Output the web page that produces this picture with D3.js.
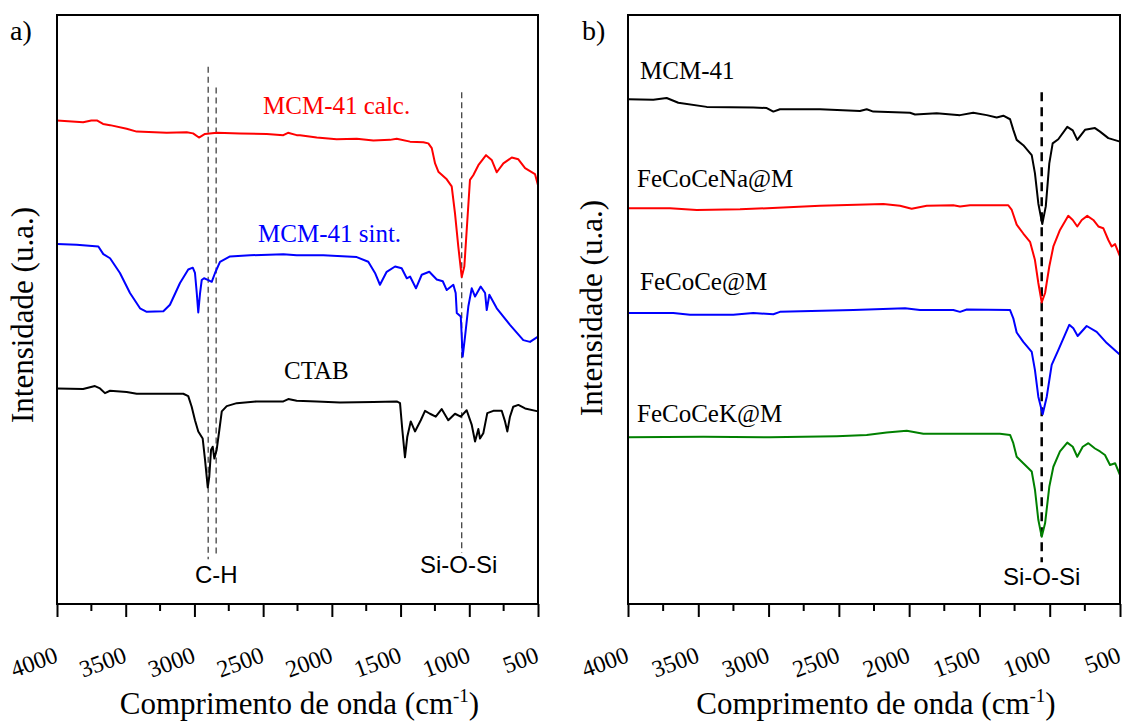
<!DOCTYPE html>
<html>
<head>
<meta charset="utf-8">
<script src="https://cdn.jsdelivr.net/npm/d3@7"></script>
<style>
  body { margin: 0; background: #fff; }
  svg { display: block; font-family: "Liberation Serif", "Times New Roman", serif; }
</style>
</head>
<body>
<svg id="chart" width="1124" height="723"></svg>
<script>
// wavenumber (cm-1) , intensity (u.a.)
const tickValues = [4000, 3500, 3000, 2500, 2000, 1500, 1000, 500];
const minorTicks = [3750, 3250, 2750, 2250, 1750, 1250, 750];

// panel a
const mcmCalc = [[4000,82.1],[3810,81.8],[3750,82.1],[3710,82.1],[3665,81.5],[3614,81.3],[3493,80.7],[3420,80.2],
  [3202,80.0],[3056,80.1],[3010,79.9],[2967,79.2],[2923,79.8],[2838,80.0],[2668,79.9],[2474,79.8],[2353,79.6],
  [2319,80.0],[2256,79.6],[2232,79.6],[2110,79.2],[1965,78.9],[1819,79.0],[1698,78.7],[1577,78.8],[1528,79.0],
  [1431,78.5],[1334,78.4],[1298,78.2],[1273,77.4],[1249,74.8],[1225,73.4],[1164,72.1],[1128,70.9],[1104,66.3],
  [1080,60.7],[1055,55.5],[1036,57.3],[1014,65.2],[995,72.0],[971,72.8],[934,74.5],[878,76.2],[837,75.4],
  [800,73.3],[752,74.8],[691,75.8],[643,75.5],[594,74.0],[522,73.0],[500,71.1]];

const mcmSint = [[4000,61.1],[3857,61.0],[3699,60.7],[3663,59.4],[3614,58.7],[3542,56.2],[3469,52.8],[3396,50.2],
  [3347,49.6],[3226,49.7],[3178,50.8],[3105,54.5],[3045,56.8],[3012,57.1],[2996,56.2],[2983,52.8],[2972,49.5],
  [2959,52.8],[2947,55.0],[2930,55.3],[2899,55.0],[2874,54.7],[2850,56.2],[2814,58.1],[2741,59.0],[2595,59.2],
  [2353,59.4],[2256,59.2],[2062,59.2],[1819,58.9],[1735,58.1],[1686,56.2],[1650,54.2],[1601,56.4],[1540,57.3],
  [1492,57.0],[1455,55.3],[1431,55.6],[1388,53.6],[1346,55.9],[1291,56.4],[1237,55.1],[1193,54.8],[1164,53.3],
  [1116,54.2],[1099,52.8],[1091,49.4],[1062,48.8],[1048,42.0],[1031,45.4],[1007,50.5],[982,53.6],[958,52.2],
  [917,53.9],[885,52.8],[873,49.9],[854,52.5],[800,50.2],[704,47.4],[607,44.8],[558,44.5],[500,45.4]];

const ctab = [[4000,36.6],[3810,36.5],[3760,36.8],[3724,37.0],[3687,36.6],[3651,35.8],[3614,36.2],[3493,36.0],
  [3420,35.7],[3274,35.7],[3081,35.7],[3045,35.3],[3020,33.5],[2996,31.2],[2972,29.3],[2940,28.1],[2923,24.5],
  [2903,19.8],[2892,21.6],[2879,26.2],[2867,26.7],[2855,24.7],[2838,26.2],[2819,29.5],[2801,32.7],[2765,33.6],
  [2692,34.1],[2547,34.4],[2353,34.4],[2317,34.8],[2256,34.5],[2110,34.4],[1941,34.2],[1698,34.3],[1528,34.4],
  [1504,34.1],[1487,29.5],[1468,24.9],[1451,28.4],[1426,31.0],[1395,29.3],[1353,31.2],[1322,32.8],[1286,32.3],
  [1244,31.8],[1201,33.1],[1153,31.2],[1104,32.3],[1062,31.8],[1019,32.9],[982,30.4],[958,27.6],[934,29.7],
  [922,28.1],[898,29.0],[869,32.4],[825,32.8],[764,32.8],[740,31.0],[723,29.3],[704,31.8],[680,33.5],
  [643,33.8],[594,33.2],[500,32.7]];

// panel b
const mcm41 = [[4000,85.7],[3820,85.6],[3725,85.9],[3642,85.1],[3440,84.4],[3109,84.3],[3013,84.2],[2966,83.6],
  [2919,84.0],[2634,84.0],[2350,83.7],[2302,84.0],[2255,83.6],[1994,83.4],[1958,83.1],[1804,83.3],[1638,83.0],
  [1544,83.4],[1448,83.0],[1377,82.6],[1330,82.9],[1282,82.3],[1259,80.5],[1235,78.8],[1188,77.9],[1128,76.2],
  [1105,73.1],[1081,68.0],[1053,64.5],[1028,67.5],[1003,74.8],[979,78.2],[939,78.9],[875,81.0],[836,80.4],
  [804,78.8],[749,80.5],[678,80.8],[642,80.2],[583,79.1],[500,78.5]];

const fecoceNa = [[4000,67.2],[3701,67.2],[3511,66.9],[3203,67.0],[2634,67.6],[2184,67.9],[2065,67.6],[1982,67.1],
  [1875,67.6],[1686,67.7],[1638,67.5],[1567,67.7],[1295,67.7],[1270,66.9],[1235,64.4],[1188,62.9],[1140,61.5],
  [1105,58.4],[1081,54.5],[1057,51.2],[1033,52.8],[1003,57.3],[974,60.7],[927,63.5],[868,65.9],[836,65.2],
  [804,64.1],[772,65.2],[733,65.9],[690,65.2],[654,64.1],[619,63.8],[583,61.8],[559,60.7],[535,61.1],[500,59.0]];

const fecoce = [[4000,49.4],[3678,49.4],[3559,49.1],[3251,49.1],[3109,49.4],[2966,49.2],[2919,49.6],[2397,49.9],
  [2029,50.2],[1923,49.9],[1686,49.9],[1638,49.6],[1590,50.0],[1282,49.9],[1259,48.5],[1235,46.1],[1188,44.5],
  [1128,42.8],[1105,39.7],[1081,35.2],[1050,32.2],[1021,35.2],[986,40.6],[939,43.1],[861,47.4],[832,46.8],
  [801,45.5],[737,47.2],[666,46.2],[594,44.3],[500,42.3]];

const fecoceK = [[4000,28.3],[3464,28.4],[2990,28.3],[2515,28.5],[2302,28.7],[2160,29.1],[2017,29.4],[1899,28.9],
  [1354,28.9],[1282,28.7],[1259,27.3],[1235,25.0],[1188,23.9],[1128,22.5],[1105,19.4],[1081,14.3],[1057,11.4],
  [1033,13.7],[1003,19.9],[974,23.3],[927,25.9],[875,27.4],[836,26.7],[804,25.0],[765,26.7],[725,27.3],
  [678,26.4],[642,25.9],[607,25.3],[571,23.6],[535,23.9],[500,21.9]];

const svg = d3.select('#chart');

function drawPanel(cfg) {
  const x = d3.scaleLinear().domain([4000, 500]).range([cfg.left, cfg.right]);
  const y = d3.scaleLinear().domain([0, 100]).range([604, 15]);
  const g = svg.append('g');

  const line = d3.line().x(d => x(d[0])).y(d => y(d[1]));

  // reference lines
  cfg.refs.forEach(r => {
    g.append('line')
      .attr('x1', x(r.wn)).attr('x2', x(r.wn))
      .attr('y1', y(r.top)).attr('y2', y(r.bottom))
      .attr('stroke', cfg.refColor)
      .attr('stroke-width', cfg.refWidth)
      .attr('stroke-dasharray', cfg.refDash);
  });

  cfg.series.forEach(s => {
    g.append('path')
      .datum(s.data)
      .attr('fill', 'none')
      .attr('stroke', s.color)
      .attr('stroke-width', 2)
      .attr('stroke-linejoin', 'round')
      .attr('d', line);
    g.append('text')
      .attr('x', s.lx).attr('y', s.ly)
      .attr('fill', s.labelColor || s.color)
      .style('font-size', cfg.labelSize + 'px')
      .text(s.name);
  });

  // axis (ticks pointing out of the frame)
  const xAxis = d3.axisBottom(x).tickValues(tickValues).tickSize(13).tickSizeOuter(0).tickFormat(d3.format('d'));
  const axG = g.append('g').attr('transform', 'translate(0,604)').call(xAxis);
  axG.select('.domain').remove();
  axG.selectAll('.tick line').attr('stroke', '#000').attr('stroke-width', 2);
  axG.selectAll('.tick text')
    .attr('fill', '#000')
    .style('font-family', '"Liberation Serif", serif')
    .style('font-size', '24px')
    .attr('text-anchor', 'end')
    .attr('dy', 0)
    .attr('y', 58)
    .attr('x', 2)
    .attr('transform', 'rotate(-20 0 58)');
  g.append('g').selectAll('line')
    .data(minorTicks)
    .join('line')
    .attr('x1', d => x(d)).attr('x2', d => x(d))
    .attr('y1', 604).attr('y2', 611)
    .attr('stroke', '#000').attr('stroke-width', 2);

  // frame
  g.append('rect')
    .attr('x', cfg.left).attr('y', 15)
    .attr('width', cfg.right - cfg.left).attr('height', 589)
    .attr('fill', 'none').attr('stroke', '#000').attr('stroke-width', 2);

  cfg.notes.forEach(n => {
    g.append('text')
      .attr('x', n.x).attr('y', n.y)
      .style('font-family', '"Liberation Sans", Arial, sans-serif')
      .style('font-size', '24px')
      .text(n.text);
  });

  g.append('text')
    .attr('x', cfg.tagX).attr('y', 40)
    .style('font-size', '28px')
    .text(cfg.tag);

  g.append('text')
    .attr('transform', `translate(${cfg.ylabX},${cfg.ylabY}) rotate(-90)`)
    .attr('text-anchor', 'middle')
    .style('font-size', '31px')
    .text('Intensidade (u.a.)');

  const xt = g.append('text')
    .attr('x', (cfg.left + cfg.right) / 2 + 2).attr('y', 714)
    .attr('text-anchor', 'middle')
    .style('font-size', '31px');
  xt.append('tspan').text('Comprimento de onda (cm');
  xt.append('tspan').attr('dy', -12).style('font-size', '19px').text('-1');
  xt.append('tspan').attr('dy', 12).text(')');
}

drawPanel({
  left: 57, right: 538, tag: 'a)', tagX: 10, ylabX: 33, ylabY: 315,
  labelSize: 25,
  refColor: '#333', refWidth: 1.2, refDash: '6,4',
  refs: [{wn: 2900, top: 91.2, bottom: 7.6}, {wn: 2842, top: 87.7, bottom: 8.2}, {wn: 1055, top: 86.9, bottom: 8.7}],
  series: [
    {name: 'MCM-41 calc.', data: mcmCalc, color: '#ff0000', lx: 263, ly: 114},
    {name: 'MCM-41 sint.', data: mcmSint, color: '#0000ff', lx: 258, ly: 242},
    {name: 'CTAB', data: ctab, color: '#000000', lx: 284, ly: 379}
  ],
  notes: [{text: 'C-H', x: 195, y: 583}, {text: 'Si-O-Si', x: 420, y: 573}]
});

// labels in panel b are all black
drawPanel({
  left: 628, right: 1120, tag: 'b)', tagX: 582, ylabX: 602, ylabY: 308,
  labelSize: 25,
  refColor: '#000', refWidth: 2.5, refDash: '9,6',
  refs: [{wn: 1057, top: 86.9, bottom: 7.1}],
  series: [
    {name: 'MCM-41', data: mcm41, color: '#000000', lx: 640, ly: 79},
    {name: 'FeCoCeNa@M', data: fecoceNa, color: '#ff0000', labelColor: '#000', lx: 637, ly: 187},
    {name: 'FeCoCe@M', data: fecoce, color: '#0000ff', labelColor: '#000', lx: 640, ly: 290},
    {name: 'FeCoCeK@M', data: fecoceK, color: '#008000', labelColor: '#000', lx: 637, ly: 422}
  ],
  notes: [{text: 'Si-O-Si', x: 1003, y: 585}]
});
</script>
</body>
</html>
